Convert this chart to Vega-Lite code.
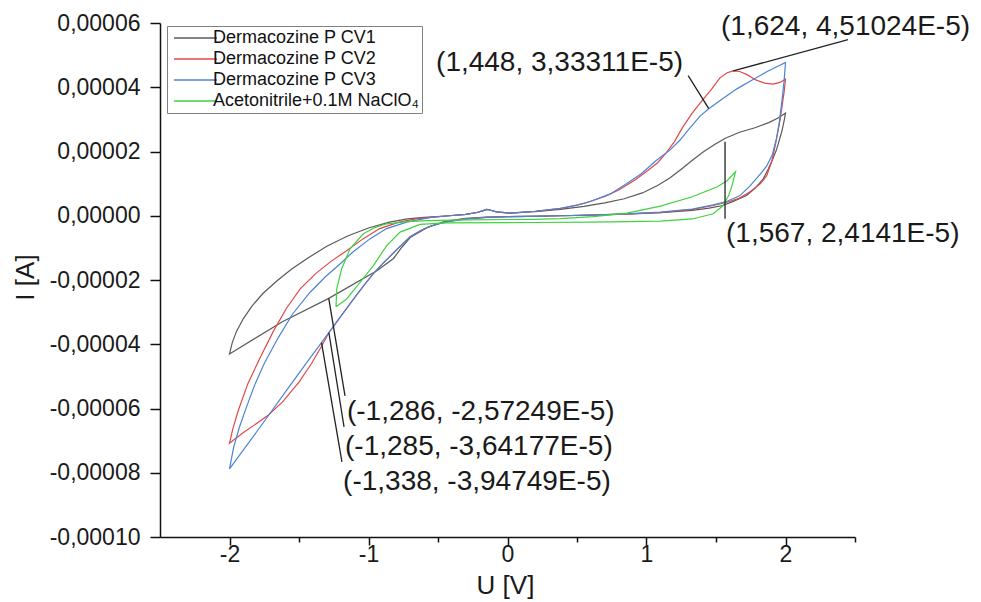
{
  "$schema": "https://vega.github.io/schema/vega-lite/v6.json",
  "width": 695,
  "height": 514,
  "autosize": {"type": "none"},
  "padding": {"left": 160, "top": 23, "right": 126, "bottom": 65},
  "background": "white",
  "config": {"view": {"stroke": null}, "font": "Liberation Sans"},
  "layer": [
    {
      "data": {"values": [
        {"s": "Dermacozine P CV1", "u": 0, "a": -0.03e-5},
        {"s": "Dermacozine P CV1", "u": 0.15, "a": -0.02e-5},
        {"s": "Dermacozine P CV1", "u": 0.38, "a": 0},
        {"s": "Dermacozine P CV1", "u": 0.6, "a": 0.02e-5},
        {"s": "Dermacozine P CV1", "u": 0.86, "a": 0.06e-5},
        {"s": "Dermacozine P CV1", "u": 1.1, "a": 0.1e-5},
        {"s": "Dermacozine P CV1", "u": 1.33, "a": 0.17e-5},
        {"s": "Dermacozine P CV1", "u": 1.45, "a": 0.24e-5},
        {"s": "Dermacozine P CV1", "u": 1.55, "a": 0.32e-5},
        {"s": "Dermacozine P CV1", "u": 1.62, "a": 0.44e-5},
        {"s": "Dermacozine P CV1", "u": 1.72, "a": 0.63e-5},
        {"s": "Dermacozine P CV1", "u": 1.78, "a": 0.85e-5},
        {"s": "Dermacozine P CV1", "u": 1.84, "a": 1.15e-5},
        {"s": "Dermacozine P CV1", "u": 1.875, "a": 1.45e-5},
        {"s": "Dermacozine P CV1", "u": 1.91, "a": 1.78e-5},
        {"s": "Dermacozine P CV1", "u": 1.935, "a": 2.05e-5},
        {"s": "Dermacozine P CV1", "u": 1.96, "a": 2.42e-5},
        {"s": "Dermacozine P CV1", "u": 1.975, "a": 2.65e-5},
        {"s": "Dermacozine P CV1", "u": 1.99, "a": 2.95e-5},
        {"s": "Dermacozine P CV1", "u": 2.0, "a": 3.2e-5},
        {"s": "Dermacozine P CV1", "u": 1.95, "a": 3.05e-5},
        {"s": "Dermacozine P CV1", "u": 1.88, "a": 2.9e-5},
        {"s": "Dermacozine P CV1", "u": 1.78, "a": 2.74e-5},
        {"s": "Dermacozine P CV1", "u": 1.67, "a": 2.6e-5},
        {"s": "Dermacozine P CV1", "u": 1.567, "a": 2.4141e-5},
        {"s": "Dermacozine P CV1", "u": 1.49, "a": 2.22e-5},
        {"s": "Dermacozine P CV1", "u": 1.41, "a": 1.99e-5},
        {"s": "Dermacozine P CV1", "u": 1.33, "a": 1.73e-5},
        {"s": "Dermacozine P CV1", "u": 1.25, "a": 1.45e-5},
        {"s": "Dermacozine P CV1", "u": 1.17, "a": 1.18e-5},
        {"s": "Dermacozine P CV1", "u": 1.08, "a": 0.94e-5},
        {"s": "Dermacozine P CV1", "u": 0.97, "a": 0.71e-5},
        {"s": "Dermacozine P CV1", "u": 0.84, "a": 0.53e-5},
        {"s": "Dermacozine P CV1", "u": 0.7, "a": 0.4e-5},
        {"s": "Dermacozine P CV1", "u": 0.55, "a": 0.29e-5},
        {"s": "Dermacozine P CV1", "u": 0.38, "a": 0.2e-5},
        {"s": "Dermacozine P CV1", "u": 0.2, "a": 0.13e-5},
        {"s": "Dermacozine P CV1", "u": 0.02, "a": 0.08e-5},
        {"s": "Dermacozine P CV1", "u": -0.08, "a": 0.12e-5},
        {"s": "Dermacozine P CV1", "u": -0.12, "a": 0.17e-5},
        {"s": "Dermacozine P CV1", "u": -0.15, "a": 0.2e-5},
        {"s": "Dermacozine P CV1", "u": -0.18, "a": 0.15e-5},
        {"s": "Dermacozine P CV1", "u": -0.22, "a": 0.1e-5},
        {"s": "Dermacozine P CV1", "u": -0.3, "a": 0.04e-5},
        {"s": "Dermacozine P CV1", "u": -0.42, "a": 0},
        {"s": "Dermacozine P CV1", "u": -0.6, "a": -0.05e-5},
        {"s": "Dermacozine P CV1", "u": -0.72, "a": -0.1e-5},
        {"s": "Dermacozine P CV1", "u": -0.85, "a": -0.2e-5},
        {"s": "Dermacozine P CV1", "u": -1.0, "a": -0.38e-5},
        {"s": "Dermacozine P CV1", "u": -1.15, "a": -0.63e-5},
        {"s": "Dermacozine P CV1", "u": -1.3, "a": -0.95e-5},
        {"s": "Dermacozine P CV1", "u": -1.43, "a": -1.3e-5},
        {"s": "Dermacozine P CV1", "u": -1.55, "a": -1.65e-5},
        {"s": "Dermacozine P CV1", "u": -1.66, "a": -2.03e-5},
        {"s": "Dermacozine P CV1", "u": -1.76, "a": -2.42e-5},
        {"s": "Dermacozine P CV1", "u": -1.84, "a": -2.82e-5},
        {"s": "Dermacozine P CV1", "u": -1.9, "a": -3.2e-5},
        {"s": "Dermacozine P CV1", "u": -1.95, "a": -3.6e-5},
        {"s": "Dermacozine P CV1", "u": -1.98, "a": -3.95e-5},
        {"s": "Dermacozine P CV1", "u": -2.0, "a": -4.3e-5},
        {"s": "Dermacozine P CV1", "u": -1.62, "a": -3.3e-5},
        {"s": "Dermacozine P CV1", "u": -1.286, "a": -2.57249e-5},
        {"s": "Dermacozine P CV1", "u": -0.94, "a": -1.71e-5},
        {"s": "Dermacozine P CV1", "u": -0.82, "a": -1.33e-5},
        {"s": "Dermacozine P CV1", "u": -0.76, "a": -0.98e-5},
        {"s": "Dermacozine P CV1", "u": -0.7, "a": -0.68e-5},
        {"s": "Dermacozine P CV1", "u": -0.58, "a": -0.37e-5},
        {"s": "Dermacozine P CV1", "u": -0.45, "a": -0.17e-5},
        {"s": "Dermacozine P CV1", "u": -0.3, "a": -0.08e-5},
        {"s": "Dermacozine P CV1", "u": -0.15, "a": -0.04e-5},
        {"s": "Dermacozine P CV1", "u": 0, "a": -0.03e-5},

        {"s": "Dermacozine P CV2", "u": 0, "a": -0.03e-5},
        {"s": "Dermacozine P CV2", "u": 0.15, "a": -0.02e-5},
        {"s": "Dermacozine P CV2", "u": 0.38, "a": 0},
        {"s": "Dermacozine P CV2", "u": 0.6, "a": 0.02e-5},
        {"s": "Dermacozine P CV2", "u": 0.86, "a": 0.05e-5},
        {"s": "Dermacozine P CV2", "u": 1.1, "a": 0.1e-5},
        {"s": "Dermacozine P CV2", "u": 1.33, "a": 0.2e-5},
        {"s": "Dermacozine P CV2", "u": 1.48, "a": 0.32e-5},
        {"s": "Dermacozine P CV2", "u": 1.58, "a": 0.42e-5},
        {"s": "Dermacozine P CV2", "u": 1.67, "a": 0.55e-5},
        {"s": "Dermacozine P CV2", "u": 1.745, "a": 0.75e-5},
        {"s": "Dermacozine P CV2", "u": 1.82, "a": 1.0e-5},
        {"s": "Dermacozine P CV2", "u": 1.865, "a": 1.25e-5},
        {"s": "Dermacozine P CV2", "u": 1.9, "a": 1.68e-5},
        {"s": "Dermacozine P CV2", "u": 1.92, "a": 2.05e-5},
        {"s": "Dermacozine P CV2", "u": 1.94, "a": 2.5e-5},
        {"s": "Dermacozine P CV2", "u": 1.96, "a": 2.95e-5},
        {"s": "Dermacozine P CV2", "u": 1.975, "a": 3.4e-5},
        {"s": "Dermacozine P CV2", "u": 1.99, "a": 3.85e-5},
        {"s": "Dermacozine P CV2", "u": 2.0, "a": 4.25e-5},
        {"s": "Dermacozine P CV2", "u": 1.96, "a": 4.15e-5},
        {"s": "Dermacozine P CV2", "u": 1.91, "a": 4.1e-5},
        {"s": "Dermacozine P CV2", "u": 1.85, "a": 4.13e-5},
        {"s": "Dermacozine P CV2", "u": 1.79, "a": 4.22e-5},
        {"s": "Dermacozine P CV2", "u": 1.72, "a": 4.4e-5},
        {"s": "Dermacozine P CV2", "u": 1.67, "a": 4.49e-5},
        {"s": "Dermacozine P CV2", "u": 1.624, "a": 4.51024e-5},
        {"s": "Dermacozine P CV2", "u": 1.58, "a": 4.45e-5},
        {"s": "Dermacozine P CV2", "u": 1.53, "a": 4.3e-5},
        {"s": "Dermacozine P CV2", "u": 1.47, "a": 3.95e-5},
        {"s": "Dermacozine P CV2", "u": 1.4, "a": 3.58e-5},
        {"s": "Dermacozine P CV2", "u": 1.33, "a": 3.2e-5},
        {"s": "Dermacozine P CV2", "u": 1.26, "a": 2.75e-5},
        {"s": "Dermacozine P CV2", "u": 1.2, "a": 2.3e-5},
        {"s": "Dermacozine P CV2", "u": 1.14, "a": 1.95e-5},
        {"s": "Dermacozine P CV2", "u": 1.08, "a": 1.65e-5},
        {"s": "Dermacozine P CV2", "u": 1.0, "a": 1.38e-5},
        {"s": "Dermacozine P CV2", "u": 0.92, "a": 1.12e-5},
        {"s": "Dermacozine P CV2", "u": 0.8, "a": 0.8e-5},
        {"s": "Dermacozine P CV2", "u": 0.7, "a": 0.6e-5},
        {"s": "Dermacozine P CV2", "u": 0.55, "a": 0.38e-5},
        {"s": "Dermacozine P CV2", "u": 0.4, "a": 0.24e-5},
        {"s": "Dermacozine P CV2", "u": 0.2, "a": 0.14e-5},
        {"s": "Dermacozine P CV2", "u": 0.02, "a": 0.08e-5},
        {"s": "Dermacozine P CV2", "u": -0.08, "a": 0.12e-5},
        {"s": "Dermacozine P CV2", "u": -0.12, "a": 0.17e-5},
        {"s": "Dermacozine P CV2", "u": -0.15, "a": 0.2e-5},
        {"s": "Dermacozine P CV2", "u": -0.18, "a": 0.15e-5},
        {"s": "Dermacozine P CV2", "u": -0.22, "a": 0.1e-5},
        {"s": "Dermacozine P CV2", "u": -0.3, "a": 0.04e-5},
        {"s": "Dermacozine P CV2", "u": -0.42, "a": 0},
        {"s": "Dermacozine P CV2", "u": -0.54, "a": -0.04e-5},
        {"s": "Dermacozine P CV2", "u": -0.66, "a": -0.1e-5},
        {"s": "Dermacozine P CV2", "u": -0.78, "a": -0.2e-5},
        {"s": "Dermacozine P CV2", "u": -0.92, "a": -0.4e-5},
        {"s": "Dermacozine P CV2", "u": -1.04, "a": -0.72e-5},
        {"s": "Dermacozine P CV2", "u": -1.155, "a": -1.08e-5},
        {"s": "Dermacozine P CV2", "u": -1.27, "a": -1.42e-5},
        {"s": "Dermacozine P CV2", "u": -1.38, "a": -1.8e-5},
        {"s": "Dermacozine P CV2", "u": -1.49, "a": -2.27e-5},
        {"s": "Dermacozine P CV2", "u": -1.59, "a": -2.88e-5},
        {"s": "Dermacozine P CV2", "u": -1.685, "a": -3.6e-5},
        {"s": "Dermacozine P CV2", "u": -1.78, "a": -4.42e-5},
        {"s": "Dermacozine P CV2", "u": -1.87, "a": -5.25e-5},
        {"s": "Dermacozine P CV2", "u": -1.94, "a": -6.1e-5},
        {"s": "Dermacozine P CV2", "u": -1.975, "a": -6.62e-5},
        {"s": "Dermacozine P CV2", "u": -2.0, "a": -7.08e-5},
        {"s": "Dermacozine P CV2", "u": -1.9, "a": -6.75e-5},
        {"s": "Dermacozine P CV2", "u": -1.8, "a": -6.45e-5},
        {"s": "Dermacozine P CV2", "u": -1.72, "a": -6.2e-5},
        {"s": "Dermacozine P CV2", "u": -1.62, "a": -5.8e-5},
        {"s": "Dermacozine P CV2", "u": -1.5, "a": -5.18e-5},
        {"s": "Dermacozine P CV2", "u": -1.41, "a": -4.6e-5},
        {"s": "Dermacozine P CV2", "u": -1.34, "a": -4.08e-5},
        {"s": "Dermacozine P CV2", "u": -1.285, "a": -3.64177e-5},
        {"s": "Dermacozine P CV2", "u": -1.22, "a": -3.26e-5},
        {"s": "Dermacozine P CV2", "u": -1.1, "a": -2.55e-5},
        {"s": "Dermacozine P CV2", "u": -1.03, "a": -2.15e-5},
        {"s": "Dermacozine P CV2", "u": -0.965, "a": -1.8e-5},
        {"s": "Dermacozine P CV2", "u": -0.9, "a": -1.5e-5},
        {"s": "Dermacozine P CV2", "u": -0.83, "a": -1.2e-5},
        {"s": "Dermacozine P CV2", "u": -0.76, "a": -0.9e-5},
        {"s": "Dermacozine P CV2", "u": -0.7, "a": -0.65e-5},
        {"s": "Dermacozine P CV2", "u": -0.62, "a": -0.45e-5},
        {"s": "Dermacozine P CV2", "u": -0.55, "a": -0.32e-5},
        {"s": "Dermacozine P CV2", "u": -0.45, "a": -0.2e-5},
        {"s": "Dermacozine P CV2", "u": -0.3, "a": -0.1e-5},
        {"s": "Dermacozine P CV2", "u": -0.15, "a": -0.05e-5},
        {"s": "Dermacozine P CV2", "u": 0, "a": -0.03e-5},

        {"s": "Dermacozine P CV3", "u": 0, "a": -0.03e-5},
        {"s": "Dermacozine P CV3", "u": 0.15, "a": -0.02e-5},
        {"s": "Dermacozine P CV3", "u": 0.38, "a": 0},
        {"s": "Dermacozine P CV3", "u": 0.6, "a": 0.02e-5},
        {"s": "Dermacozine P CV3", "u": 0.86, "a": 0.06e-5},
        {"s": "Dermacozine P CV3", "u": 1.1, "a": 0.11e-5},
        {"s": "Dermacozine P CV3", "u": 1.33, "a": 0.21e-5},
        {"s": "Dermacozine P CV3", "u": 1.48, "a": 0.34e-5},
        {"s": "Dermacozine P CV3", "u": 1.58, "a": 0.45e-5},
        {"s": "Dermacozine P CV3", "u": 1.67, "a": 0.62e-5},
        {"s": "Dermacozine P CV3", "u": 1.745, "a": 0.93e-5},
        {"s": "Dermacozine P CV3", "u": 1.82, "a": 1.3e-5},
        {"s": "Dermacozine P CV3", "u": 1.865, "a": 1.55e-5},
        {"s": "Dermacozine P CV3", "u": 1.905, "a": 1.9e-5},
        {"s": "Dermacozine P CV3", "u": 1.935, "a": 2.4e-5},
        {"s": "Dermacozine P CV3", "u": 1.955, "a": 2.9e-5},
        {"s": "Dermacozine P CV3", "u": 1.975, "a": 3.6e-5},
        {"s": "Dermacozine P CV3", "u": 1.99, "a": 4.2e-5},
        {"s": "Dermacozine P CV3", "u": 2.0, "a": 4.77e-5},
        {"s": "Dermacozine P CV3", "u": 1.93, "a": 4.62e-5},
        {"s": "Dermacozine P CV3", "u": 1.865, "a": 4.48e-5},
        {"s": "Dermacozine P CV3", "u": 1.77, "a": 4.25e-5},
        {"s": "Dermacozine P CV3", "u": 1.65, "a": 3.95e-5},
        {"s": "Dermacozine P CV3", "u": 1.55, "a": 3.65e-5},
        {"s": "Dermacozine P CV3", "u": 1.448, "a": 3.33311e-5},
        {"s": "Dermacozine P CV3", "u": 1.385, "a": 3.1e-5},
        {"s": "Dermacozine P CV3", "u": 1.31, "a": 2.72e-5},
        {"s": "Dermacozine P CV3", "u": 1.24, "a": 2.35e-5},
        {"s": "Dermacozine P CV3", "u": 1.17, "a": 2.05e-5},
        {"s": "Dermacozine P CV3", "u": 1.07, "a": 1.72e-5},
        {"s": "Dermacozine P CV3", "u": 0.96, "a": 1.3e-5},
        {"s": "Dermacozine P CV3", "u": 0.85, "a": 0.98e-5},
        {"s": "Dermacozine P CV3", "u": 0.74, "a": 0.68e-5},
        {"s": "Dermacozine P CV3", "u": 0.6, "a": 0.45e-5},
        {"s": "Dermacozine P CV3", "u": 0.5, "a": 0.33e-5},
        {"s": "Dermacozine P CV3", "u": 0.38, "a": 0.23e-5},
        {"s": "Dermacozine P CV3", "u": 0.2, "a": 0.14e-5},
        {"s": "Dermacozine P CV3", "u": 0.02, "a": 0.08e-5},
        {"s": "Dermacozine P CV3", "u": -0.08, "a": 0.12e-5},
        {"s": "Dermacozine P CV3", "u": -0.12, "a": 0.17e-5},
        {"s": "Dermacozine P CV3", "u": -0.15, "a": 0.2e-5},
        {"s": "Dermacozine P CV3", "u": -0.18, "a": 0.15e-5},
        {"s": "Dermacozine P CV3", "u": -0.22, "a": 0.1e-5},
        {"s": "Dermacozine P CV3", "u": -0.3, "a": 0.04e-5},
        {"s": "Dermacozine P CV3", "u": -0.42, "a": 0},
        {"s": "Dermacozine P CV3", "u": -0.56, "a": -0.06e-5},
        {"s": "Dermacozine P CV3", "u": -0.72, "a": -0.19e-5},
        {"s": "Dermacozine P CV3", "u": -0.87, "a": -0.4e-5},
        {"s": "Dermacozine P CV3", "u": -0.99, "a": -0.72e-5},
        {"s": "Dermacozine P CV3", "u": -1.11, "a": -1.12e-5},
        {"s": "Dermacozine P CV3", "u": -1.205, "a": -1.5e-5},
        {"s": "Dermacozine P CV3", "u": -1.31, "a": -1.9e-5},
        {"s": "Dermacozine P CV3", "u": -1.42, "a": -2.38e-5},
        {"s": "Dermacozine P CV3", "u": -1.545, "a": -3.05e-5},
        {"s": "Dermacozine P CV3", "u": -1.65, "a": -3.8e-5},
        {"s": "Dermacozine P CV3", "u": -1.75, "a": -4.6e-5},
        {"s": "Dermacozine P CV3", "u": -1.82, "a": -5.28e-5},
        {"s": "Dermacozine P CV3", "u": -1.88, "a": -5.98e-5},
        {"s": "Dermacozine P CV3", "u": -1.93, "a": -6.6e-5},
        {"s": "Dermacozine P CV3", "u": -1.97, "a": -7.2e-5},
        {"s": "Dermacozine P CV3", "u": -2.0, "a": -7.88e-5},
        {"s": "Dermacozine P CV3", "u": -1.8, "a": -6.7e-5},
        {"s": "Dermacozine P CV3", "u": -1.6, "a": -5.5e-5},
        {"s": "Dermacozine P CV3", "u": -1.45, "a": -4.6e-5},
        {"s": "Dermacozine P CV3", "u": -1.338, "a": -3.94749e-5},
        {"s": "Dermacozine P CV3", "u": -1.22, "a": -3.25e-5},
        {"s": "Dermacozine P CV3", "u": -1.1, "a": -2.55e-5},
        {"s": "Dermacozine P CV3", "u": -1.03, "a": -2.15e-5},
        {"s": "Dermacozine P CV3", "u": -0.965, "a": -1.8e-5},
        {"s": "Dermacozine P CV3", "u": -0.9, "a": -1.5e-5},
        {"s": "Dermacozine P CV3", "u": -0.83, "a": -1.2e-5},
        {"s": "Dermacozine P CV3", "u": -0.76, "a": -0.9e-5},
        {"s": "Dermacozine P CV3", "u": -0.7, "a": -0.65e-5},
        {"s": "Dermacozine P CV3", "u": -0.62, "a": -0.45e-5},
        {"s": "Dermacozine P CV3", "u": -0.55, "a": -0.32e-5},
        {"s": "Dermacozine P CV3", "u": -0.45, "a": -0.2e-5},
        {"s": "Dermacozine P CV3", "u": -0.3, "a": -0.1e-5},
        {"s": "Dermacozine P CV3", "u": -0.15, "a": -0.05e-5},
        {"s": "Dermacozine P CV3", "u": 0, "a": -0.03e-5},

        {"s": "Acetonitrile+0.1M NaClO₄", "u": -1.234, "a": -2.83e-5},
        {"s": "Acetonitrile+0.1M NaClO₄", "u": -1.228, "a": -2.27e-5},
        {"s": "Acetonitrile+0.1M NaClO₄", "u": -1.193, "a": -1.65e-5},
        {"s": "Acetonitrile+0.1M NaClO₄", "u": -1.133, "a": -1.03e-5},
        {"s": "Acetonitrile+0.1M NaClO₄", "u": -1.037, "a": -0.56e-5},
        {"s": "Acetonitrile+0.1M NaClO₄", "u": -0.95, "a": -0.36e-5},
        {"s": "Acetonitrile+0.1M NaClO₄", "u": -0.869, "a": -0.25e-5},
        {"s": "Acetonitrile+0.1M NaClO₄", "u": -0.72, "a": -0.18e-5},
        {"s": "Acetonitrile+0.1M NaClO₄", "u": -0.58, "a": -0.15e-5},
        {"s": "Acetonitrile+0.1M NaClO₄", "u": -0.29, "a": -0.13e-5},
        {"s": "Acetonitrile+0.1M NaClO₄", "u": 0.18, "a": -0.11e-5},
        {"s": "Acetonitrile+0.1M NaClO₄", "u": 0.38, "a": -0.09e-5},
        {"s": "Acetonitrile+0.1M NaClO₄", "u": 0.615, "a": -0.03e-5},
        {"s": "Acetonitrile+0.1M NaClO₄", "u": 0.86, "a": 0.08e-5},
        {"s": "Acetonitrile+0.1M NaClO₄", "u": 1.1, "a": 0.3e-5},
        {"s": "Acetonitrile+0.1M NaClO₄", "u": 1.33, "a": 0.59e-5},
        {"s": "Acetonitrile+0.1M NaClO₄", "u": 1.51, "a": 0.9e-5},
        {"s": "Acetonitrile+0.1M NaClO₄", "u": 1.58, "a": 1.09e-5},
        {"s": "Acetonitrile+0.1M NaClO₄", "u": 1.64, "a": 1.37e-5},
        {"s": "Acetonitrile+0.1M NaClO₄", "u": 1.615, "a": 0.93e-5},
        {"s": "Acetonitrile+0.1M NaClO₄", "u": 1.59, "a": 0.62e-5},
        {"s": "Acetonitrile+0.1M NaClO₄", "u": 1.55, "a": 0.31e-5},
        {"s": "Acetonitrile+0.1M NaClO₄", "u": 1.48, "a": 0.06e-5},
        {"s": "Acetonitrile+0.1M NaClO₄", "u": 1.33, "a": -0.1e-5},
        {"s": "Acetonitrile+0.1M NaClO₄", "u": 1.1, "a": -0.17e-5},
        {"s": "Acetonitrile+0.1M NaClO₄", "u": 0.615, "a": -0.2e-5},
        {"s": "Acetonitrile+0.1M NaClO₄", "u": 0.18, "a": -0.21e-5},
        {"s": "Acetonitrile+0.1M NaClO₄", "u": -0.437, "a": -0.22e-5},
        {"s": "Acetonitrile+0.1M NaClO₄", "u": -0.63, "a": -0.27e-5},
        {"s": "Acetonitrile+0.1M NaClO₄", "u": -0.773, "a": -0.51e-5},
        {"s": "Acetonitrile+0.1M NaClO₄", "u": -0.869, "a": -0.93e-5},
        {"s": "Acetonitrile+0.1M NaClO₄", "u": -0.965, "a": -1.55e-5},
        {"s": "Acetonitrile+0.1M NaClO₄", "u": -1.06, "a": -2.07e-5},
        {"s": "Acetonitrile+0.1M NaClO₄", "u": -1.157, "a": -2.59e-5},
        {"s": "Acetonitrile+0.1M NaClO₄", "u": -1.234, "a": -2.83e-5}
      ]},
      "transform": [{"window": [{"op": "row_number", "as": "i"}]}],
      "mark": {"type": "line", "strokeWidth": 1.2, "clip": false},
      "encoding": {
        "x": {
          "field": "u", "type": "quantitative",
          "scale": {"domain": [-2.5, 2.5], "nice": false, "zero": false},
          "axis": {
            "title": "U [V]",
            "values": [-2, -1.5, -1, -0.5, 0, 0.5, 1, 1.5, 2, 2.5],
            "labelExpr": "datum.value % 1 === 0 ? (datum.value < 0 ? '-' : '') + format(abs(datum.value), 'd') : ''",
            "grid": false,
            "domainColor": "#111111", "domainWidth": 1.5,
            "tickColor": "#111111", "tickWidth": 1.5,
            "tickSize": {"condition": {"test": "datum.value % 1 === 0", "value": 8}, "value": 5},
            "labelFont": "Liberation Sans", "labelFontSize": 23, "labelColor": "#1a1a1a", "labelPadding": -2,
            "labelOverlap": false, "labelFlush": false,
            "titleFont": "Liberation Sans", "titleFontSize": 26, "titleFontWeight": "normal", "titleColor": "#1a1a1a",
            "titleX": 345, "titleY": 48, "titleBaseline": "middle", "titleAlign": "center"
          }
        },
        "y": {
          "field": "a", "type": "quantitative",
          "scale": {"domain": [-0.0001, 0.00006], "nice": false, "zero": false},
          "axis": {
            "title": "I [A]",
            "values": [-0.0001, -0.00009, -0.00008, -0.00007, -0.00006, -0.00005, -0.00004, -0.00003, -0.00002, -0.00001, 0, 0.00001, 0.00002, 0.00003, 0.00004, 0.00005, 0.00006],
            "labelExpr": "abs(datum.value / 0.00002 - round(datum.value / 0.00002)) < 0.01 ? (datum.value < 0 ? '-' : '') + replace(format(abs(datum.value), '.5f'), '.', ',') : ''",
            "grid": false,
            "domainColor": "#111111", "domainWidth": 1.5,
            "tickColor": "#111111", "tickWidth": 1.5,
            "tickSize": {"condition": {"test": "abs(datum.value / 0.00002 - round(datum.value / 0.00002)) < 0.01", "value": 10}, "value": 5},
            "labelFont": "Liberation Sans", "labelFontSize": 23, "labelColor": "#1a1a1a", "labelPadding": 10,
            "labelOverlap": false, "labelFlush": false,
            "titleFont": "Liberation Sans", "titleFontSize": 26, "titleFontWeight": "normal", "titleColor": "#1a1a1a",
            "titleX": -135, "titleY": 254, "titleBaseline": "middle", "titleAlign": "center", "titleAngle": -90
          }
        },
        "color": {
          "field": "s", "type": "nominal",
          "scale": {
            "domain": ["Dermacozine P CV1", "Dermacozine P CV2", "Dermacozine P CV3", "Acetonitrile+0.1M NaClO₄"],
            "range": ["#5a5a5a", "#e04848", "#4a84d6", "#3fd33f"]
          },
          "legend": {
            "title": null, "orient": "none", "legendX": 7, "legendY": 3,
            "symbolType": "M-1,0H7.6", "symbolSize": 100, "symbolStrokeWidth": 1.5,
            "labelFont": "Liberation Sans", "labelFontSize": 18, "labelColor": "#111111", "labelOffset": 25, "labelLimit": 400,
            "strokeColor": "#808080", "fillColor": "white", "padding": 3, "rowPadding": 3
          }
        },
        "order": {"field": "i", "type": "quantitative"}
      }
    },
    {
      "data": {"values": [
        {"u": 1.624, "a": 4.51024e-5, "u2": 2.45, "a2": 5.48e-5},
        {"u": 1.448, "a": 3.33311e-5, "u2": 1.30, "a2": 4.36e-5},
        {"u": 1.565, "a": 2.3e-5, "u2": 1.565, "a2": -0.09e-5},
        {"u": -1.286, "a": -2.57249e-5, "u2": -1.169, "a2": -5.61e-5},
        {"u": -1.285, "a": -3.64177e-5, "u2": -1.176, "a2": -6.57e-5},
        {"u": -1.338, "a": -3.94749e-5, "u2": -1.191, "a2": -7.66e-5}
      ]},
      "mark": {"type": "rule", "color": "#222222", "strokeWidth": 1.3, "clip": false},
      "encoding": {
        "x": {"field": "u", "type": "quantitative"},
        "y": {"field": "a", "type": "quantitative"},
        "x2": {"field": "u2"},
        "y2": {"field": "a2"}
      }
    },
    {
      "data": {"values": [
        {"u": 1.536, "a": 5.89e-5, "t": "(1,624, 4,51024E-5)"},
        {"u": -0.514, "a": 4.74e-5, "t": "(1,448, 3,33311E-5)"},
        {"u": 1.572, "a": -0.56e-5, "t": "(1,567, 2,4141E-5)"},
        {"u": -1.155, "a": -6.11e-5, "t": "(-1,286, -2,57249E-5)"},
        {"u": -1.169, "a": -7.2e-5, "t": "(-1,285, -3,64177E-5)"},
        {"u": -1.183, "a": -8.29e-5, "t": "(-1,338, -3,94749E-5)"}
      ]},
      "mark": {"type": "text", "align": "left", "baseline": "middle", "font": "Liberation Sans", "fontSize": 28, "color": "#1a1a1a", "clip": false},
      "encoding": {
        "x": {"field": "u", "type": "quantitative"},
        "y": {"field": "a", "type": "quantitative"},
        "text": {"field": "t"}
      }
    }
  ]
}
